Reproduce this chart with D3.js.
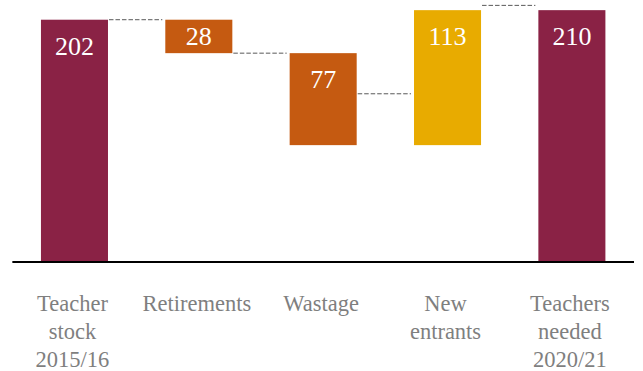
<!DOCTYPE html>
<html>
<head>
<meta charset="utf-8">
<script src="https://cdn.jsdelivr.net/npm/d3@7"></script>
<style>
  html, body { margin: 0; padding: 0; background: #fff; }
  svg { display: block; }
</style>
</head>
<body>
<svg id="chart" width="643" height="371"></svg>
<script>
// Teacher supply waterfall, thousands of teachers
const categories = [
  ["Teacher", "stock", "2015/16"],
  ["Retirements"],
  ["Wastage"],
  ["New", "entrants"],
  ["Teachers", "needed", "2020/21"]
];
const kinds = ["total", "decrease", "decrease", "increase", "total"];
const values = [202, 28, 77, 113, 210];
const connectorLevels = [202, 174, 140, 214];

const colours = { total: "#8A2245", decrease: "#C55A11", increase: "#E8AB00" };

// Running start/end for each step of the waterfall
let running = 0;
const steps = values.map((v, i) => {
  let lo, hi;
  if (kinds[i] === "total") { lo = 0; hi = v; running = v; }
  else if (kinds[i] === "decrease") { hi = running; lo = running - v; running = lo; }
  else { lo = running; hi = running + v; running = hi; }
  return { i, kind: kinds[i], value: v, lo, hi };
});

const svg = d3.select("#chart");

const x = d3.scaleBand()
  .domain(d3.range(categories.length))
  .range([12.35, 634])
  .paddingInner(0.461)
  .paddingOuter(0.23);

const y = d3.scaleLinear().domain([0, 218]).range([261, 0.6]);

// Bars
svg.append("g").selectAll("rect")
  .data(steps)
  .join("rect")
  .attr("x", d => x(d.i))
  .attr("width", x.bandwidth())
  .attr("y", d => y(d.hi))
  .attr("height", d => y(d.lo) - y(d.hi))
  .attr("fill", d => colours[d.kind]);

// Dashed connectors between neighbouring bars
svg.append("g").selectAll("line")
  .data(connectorLevels)
  .join("line")
  .attr("x1", (d, i) => x(i) + x.bandwidth() + 1)
  .attr("x2", (d, i) => x(i + 1) - 3)
  .attr("y1", d => y(d))
  .attr("y2", d => y(d))
  .attr("stroke", "#595959")
  .attr("stroke-width", 1)
  .attr("stroke-dasharray", "4.5,2");

// Value labels inside bars
svg.append("g").selectAll("text")
  .data(steps)
  .join("text")
  .attr("x", d => x(d.i) + x.bandwidth() / 2)
  .attr("y", d => {
    const top = y(d.hi), bottom = y(d.lo);
    return (bottom - top) < 45 ? (top + bottom) / 2 + 9 : top + 35;
  })
  .attr("text-anchor", "middle")
  .attr("fill", "#ffffff")
  .style("font-family", "'Liberation Serif', 'DejaVu Serif', serif")
  .style("font-size", "26px")
  .text(d => d.value);

// Baseline
svg.append("line")
  .attr("x1", x.range()[0])
  .attr("x2", x.range()[1])
  .attr("y1", y(0) + 1)
  .attr("y2", y(0) + 1)
  .attr("stroke", "#000")
  .attr("stroke-width", 2);

// Category labels
const labels = svg.append("g").selectAll("text")
  .data(categories)
  .join("text")
  .attr("x", (d, i) => x(i) + x.bandwidth() / 2 - 2)
  .attr("y", 311)
  .attr("text-anchor", "middle")
  .attr("fill", "#7f7f7f")
  .style("font-family", "'Liberation Serif', 'DejaVu Serif', serif")
  .style("font-size", "22.5px");

labels.selectAll("tspan")
  .data(d => d)
  .join("tspan")
  .attr("x", function () { return d3.select(this.parentNode).attr("x"); })
  .attr("dy", (d, j) => j === 0 ? 0 : 28)
  .text(d => d);
</script>
</body>
</html>
